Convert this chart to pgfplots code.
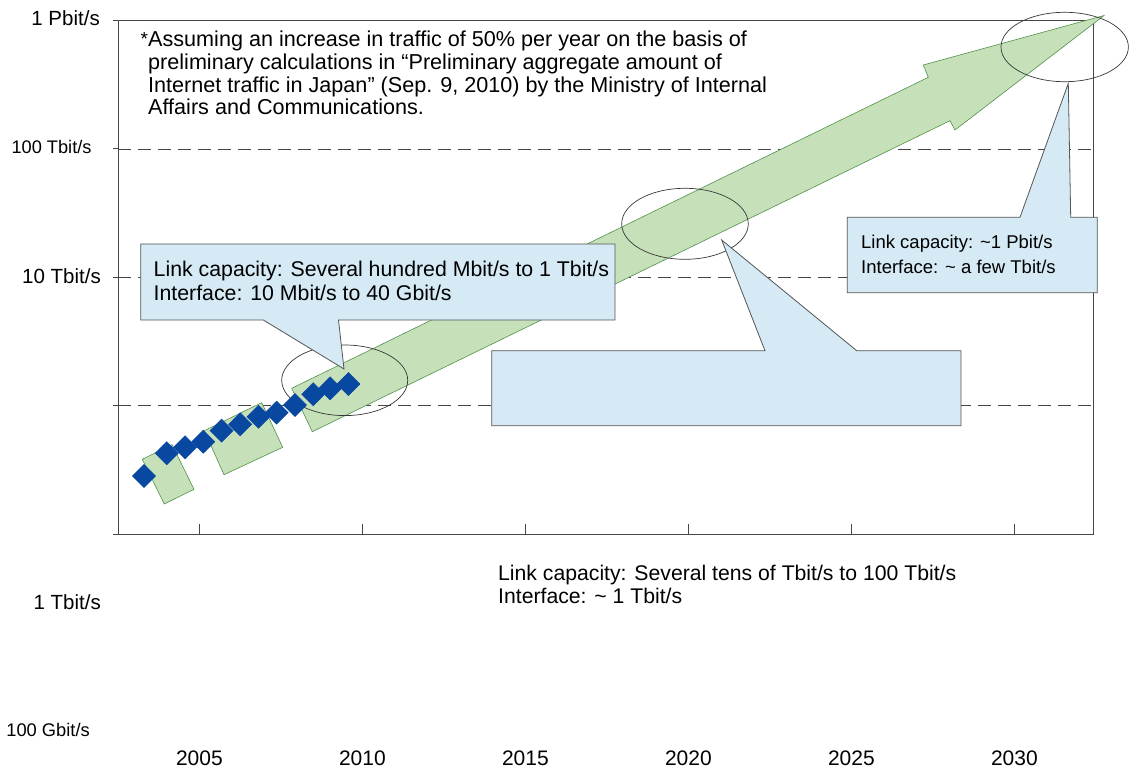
\documentclass[border=0pt]{standalone}
\usepackage{pgfplots}
\usepackage{pgfplotstable}
\pgfplotsset{compat=1.18}
\usepackage{fontspec}
\setmainfont{Liberation Sans}
\definecolor{dblue}{RGB}{8,72,160}
\definecolor{gfill}{RGB}{198,224,186}
\definecolor{gedge}{RGB}{80,145,75}
\definecolor{cfill}{RGB}{213,234,244}
\definecolor{cedge}{RGB}{85,85,85}
\definecolor{axgray}{RGB}{70,70,70}
\definecolor{ellgray}{RGB}{55,55,55}
\newcommand{\fs}[1]{\fontsize{#1}{#1}\selectfont}

\pgfplotstableread{
year    value
2003.30 0.284
2004.00 0.427
2004.56 0.475
2005.12 0.525
2005.68 0.640
2006.25 0.718
2006.81 0.822
2007.37 0.884
2007.93 1.014
2008.49 1.229
2009.01 1.369
2009.57 1.478
}\traffic

\begin{document}
\begin{tikzpicture}
\path[use as bounding box] (-118.3pt,-235.8pt) rectangle (1014.7pt,534.2pt);
\begin{axis}[
  at={(0pt,0pt)}, anchor=south west,
  scale only axis, width=974.7pt, height=513.6pt,
  xmin=2002.512, xmax=2032.411,
  ymode=log, ymin=0.1, ymax=1000,
  clip=false,
  axis line style={draw=axgray, line width=1pt},
  xtick={2005,2010,2015,2020,2025,2030},
  xticklabels={2005,2010,2015,2020,2025,2030},
  xtick pos=left,
  tick align=inside,
  major tick length=10.5pt,
  xtick style={draw=axgray, line width=0.9pt},
  xticklabel style={anchor=base, inner sep=0pt, yshift=-231.3pt, font=\fs{21}, text=black},
  ytick={1,10,100},
  yticklabels={,,},
  ytick style={draw=none},
  yminorticks=false,
  ymajorgrids,
  grid style={draw=axgray, line width=0.9pt, dash pattern=on 13pt off 7pt},
]
% y tick stubs
\draw[axgray, line width=1pt] (rel axis cs:0,0) -- ++(-5pt,0pt);
\draw[axgray, line width=1pt] (rel axis cs:0,0.25) -- ++(-5pt,0pt);
\draw[axgray, line width=1pt] (rel axis cs:0,0.5) -- ++(-5pt,0pt);
\draw[axgray, line width=1pt] (rel axis cs:0,0.75) -- ++(-5pt,0pt);
\draw[axgray, line width=1pt] (rel axis cs:0,1) -- ++(-5pt,0pt);

% green shapes
\draw[gedge, fill=gfill, line width=0.6pt] (rel axis cs:0.02462,0.14583) -- (rel axis cs:0.05509,0.17445) -- (rel axis cs:0.07767,0.08742) -- (rel axis cs:0.04719,0.05880) -- cycle;
\draw[gedge, fill=gfill, line width=0.6pt] (rel axis cs:0.08823,0.20152) -- (rel axis cs:0.14712,0.25604) -- (rel axis cs:0.16867,0.16920) -- (rel axis cs:0.10844,0.11585) -- cycle;
\draw[gedge, fill=gfill, line width=0.6pt] (rel axis cs:0.17790,0.28407) -- (rel axis cs:0.83103,0.88960) -- (rel axis cs:0.82589,0.91355) -- (rel axis cs:1.01129,1.00993) -- (rel axis cs:0.85842,0.78700) -- (rel axis cs:0.85329,0.80510) -- (rel axis cs:0.19904,0.19957) -- cycle;

% ellipses
\draw[ellgray, line width=0.7pt] (rel axis cs:0.23228,0.29965) ellipse [x radius=63pt, y radius=35.3pt];
\draw[ellgray, line width=0.7pt] (rel axis cs:0.58141,0.60436) ellipse [x radius=63.3pt, y radius=35.5pt];
\draw[ellgray, line width=0.7pt] (rel axis cs:0.97097,0.94860) ellipse [x radius=63.7pt, y radius=34.7pt];

% measured traffic
\addplot[only marks, mark=square*, mark size=8.2pt, color=dblue, mark options={rotate=45, fill=dblue, draw=dblue}] table[x=year, y=value] {\traffic};

% callouts
\draw[cedge, fill=cfill, line width=0.8pt] (rel axis cs:0.02298,0.56503) -- (rel axis cs:0.50960,0.56503) -- (rel axis cs:0.50960,0.41706) -- (rel axis cs:0.22592,0.41706) -- (rel axis cs:0.23156,0.32165) -- (rel axis cs:0.14876,0.41706) -- (rel axis cs:0.02298,0.41706) -- cycle;
\draw[cedge, fill=cfill, line width=0.8pt] (rel axis cs:0.38309,0.35728) -- (rel axis cs:0.66348,0.35728) -- (rel axis cs:0.61906,0.57282) -- (rel axis cs:0.75757,0.35728) -- (rel axis cs:0.86457,0.35728) -- (rel axis cs:0.86457,0.21125) -- (rel axis cs:0.38309,0.21125) -- cycle;
\draw[cedge, fill=cfill, line width=0.8pt] (rel axis cs:0.74792,0.61702) -- (rel axis cs:0.92511,0.61702) -- (rel axis cs:0.97466,0.87792) -- (rel axis cs:0.97712,0.61702) -- (rel axis cs:1.00441,0.61702) -- (rel axis cs:1.00441,0.47021) -- (rel axis cs:0.74792,0.47021) -- cycle;

% texts
\tikzset{lbl/.style={inner sep=0pt, anchor=base west, text=black}}
\node[lbl, font=\fs{19}] at (rel axis cs:0.02260,0.95150) {*};
\node[lbl, font=\fs{21.6}] at (rel axis cs:0.03047,0.94918) {Assuming an increase in traffic of 50\% per year on the basis of};
\node[lbl, font=\fs{21.6}] at (rel axis cs:0.03047,0.90498) {preliminary calculations in “Preliminary aggregate amount of};
\node[lbl, font=\fs{21.6}] at (rel axis cs:0.03047,0.86079) {Internet traffic in Japan” (Sep. 9, 2010) by the Ministry of Internal};
\node[lbl, font=\fs{21.6}] at (rel axis cs:0.03047,0.81659) {Affairs and Communications.};

\node[lbl, font=\fs{21.3}] at (rel axis cs:0.03611,0.50175) {Link capacity: Several hundred Mbit/s to 1 Tbit/s};
\node[lbl, font=\fs{21.3}] at (rel axis cs:0.03611,0.45600) {Interface: 10 Mbit/s to 40 Gbit/s};

\node[lbl, font=\fs{18.5}] at (rel axis cs:0.76197,0.55666) {Link capacity: \textasciitilde1 Pbit/s};
\node[lbl, font=\fs{18.5}] at (rel axis cs:0.76197,0.50798) {Interface: \textasciitilde{} a few Tbit/s};

\node[lbl, font=\fs{21.2}] at (rel axis cs:0.38955,-0.08918) {Link capacity: Several tens of Tbit/s to 100 Tbit/s};
\node[lbl, font=\fs{21.2}] at (rel axis cs:0.38955,-0.13454) {Interface: \textasciitilde{} 1 Tbit/s};

% y labels
\tikzset{ylbl/.style={inner sep=0pt, anchor=base east, text=black}}
\node[ylbl, font=\fs{20.5}] at (rel axis cs:-0.01878,0.98949) {1 Pbit/s};
\node[ylbl, font=\fs{18.2}] at (rel axis cs:-0.02729,0.74163) {100 Tbit/s};
\node[ylbl, font=\fs{20.5}] at (rel axis cs:-0.01775,0.48715) {10 Tbit/s};
\node[ylbl, font=\fs{20.5}] at (rel axis cs:-0.01775,-0.14622) {1 Tbit/s};
\node[ylbl, font=\fs{18.3}] at (rel axis cs:-0.02903,-0.39428) {100 Gbit/s};
\end{axis}
\end{tikzpicture}
\end{document}
